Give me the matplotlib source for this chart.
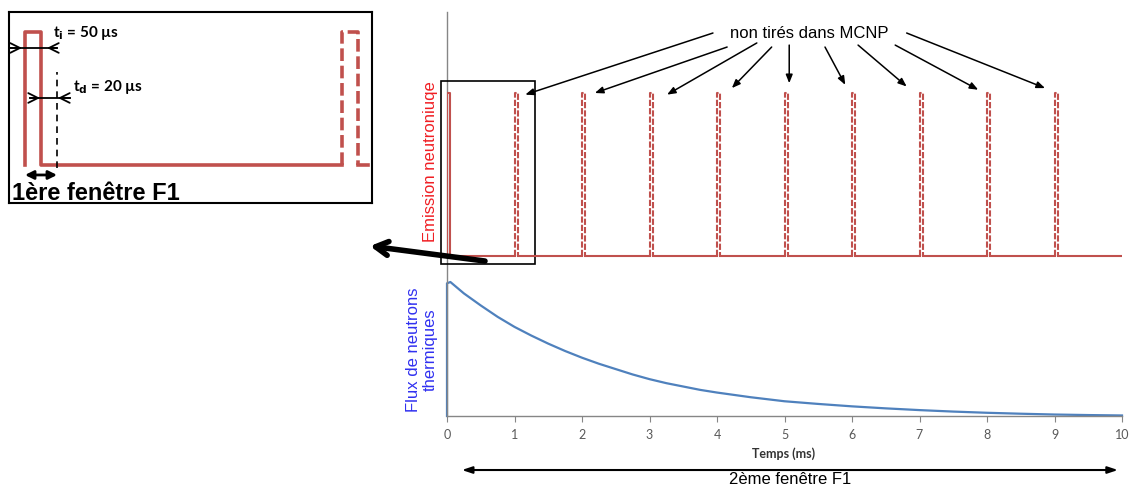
import matplotlib
matplotlib.use("Agg")
import matplotlib.pyplot as plt
from matplotlib.patches import Rectangle

# ---- data ----
# emission pulses (ms), pulse width 0.05 ms; only the first one is drawn in MCNP
pulse_t = [0, 1, 2, 3, 4, 5, 6, 7, 8, 9]
pulse_w = 0.05
pulse_tire = [True, False, False, False, False, False, False, False, False, False]
t_end = 10

# thermal neutron flux (normalised)
flux_t = [0, 0, 0.05, 0.25, 0.5, 0.75, 1, 1.25, 1.5, 1.75, 2, 2.25, 2.5, 2.75, 3,
          3.25, 3.5, 3.75, 4, 4.5, 5, 5.5, 6, 6.5, 7, 7.5, 8, 8.5, 9, 9.5, 10]
flux_v = [0, 0.99, 1.0, 0.915, 0.825, 0.74, 0.665, 0.60, 0.54, 0.485, 0.435, 0.39,
          0.35, 0.31, 0.275, 0.245, 0.22, 0.195, 0.175, 0.14, 0.11, 0.09, 0.072,
          0.057, 0.044, 0.033, 0.024, 0.017, 0.011, 0.007, 0.004]

xticks = [0, 1, 2, 3, 4, 5, 6, 7, 8, 9, 10]

# inset (µs)
ins_t_solid = [0, 0, 50, 50, 1000]
ins_v_solid = [0, 1, 1, 0, 0]
ins_t_dash = [1000, 1000, 1050, 1050]
ins_v_dash = [0, 1, 1, 0]
ins_t_tail = [1050, 1082]
ins_v_tail = [0, 0]

# arrows "non tirés dans MCNP": (target t, target level, start t, start level)
mcnp_arrows = [
    (1.16, 0.99, 3.94, 1.368),
    (2.19, 1.00, 4.15, 1.282),
    (3.26, 0.99, 4.59, 1.307),
    (4.22, 1.03, 4.81, 1.282),
    (5.07, 1.06, 5.07, 1.294),
    (5.90, 1.05, 5.60, 1.282),
    (6.81, 1.04, 6.09, 1.294),
    (7.87, 1.02, 6.64, 1.294),
    (8.86, 1.03, 6.81, 1.368),
]

RED = "#C0504D"
BLUE = "#4F81BD"
GRAY = "#868686"
plt.rcParams['font.family'] = ['Liberation Sans', 'DejaVu Sans']

W, H = 1131, 486
fig = plt.figure(figsize=(W / 100, H / 100), dpi=100)

# ---- main axes: x 0..10 ms -> px 447..1122, y px 12..416 ----
ax = fig.add_axes([447 / W, (H - 416) / H, 675 / W, 404 / H])
ax.set_xlim(0, 10)
ax.set_ylim(0, 404 / 134)
for s in ["top", "right"]:
    ax.spines[s].set_visible(False)
for s in ["left", "bottom"]:
    ax.spines[s].set_color(GRAY)
    ax.spines[s].set_linewidth(1)
ax.set_yticks([])
ax.set_xticks(xticks)
ax.set_xticklabels([str(v) for v in xticks], fontsize=9, color="#595959", family="Lato")
ax.tick_params(axis="x", length=4, color=GRAY, pad=5)
ax.patch.set_alpha(0)

ax.plot(flux_t, flux_v, color=BLUE, lw=1.6, clip_on=False, solid_joinstyle="round")

# emission on a twin axis: 0 -> px 256, 1 -> px 93
ax2 = ax.twinx()
ax2.set_ylim(-160 / 163, 244 / 163)
ax2.set_yticks([])
for s in ax2.spines.values():
    s.set_visible(False)

for i, t0 in enumerate(pulse_t):
    xs = [t0, t0, t0 + pulse_w, t0 + pulse_w]
    ys = [0, 1, 1, 0]
    if pulse_tire[i]:
        ax2.plot(xs, ys, color=RED, lw=1.5, solid_joinstyle="round")
    else:
        ax2.plot(xs, ys, color=RED, lw=1.5, linestyle=(0, (3, 1)), dash_joinstyle="round")
    nxt = pulse_t[i + 1] if i + 1 < len(pulse_t) else t_end
    ax2.plot([t0 + pulse_w, nxt], [0, 0], color=RED, lw=1.5)

# box around first window
ax2.add_patch(Rectangle((-0.089, -0.049), 1.393, 1.123, fill=False, ec="black",
                        lw=1.2, clip_on=False))
# thick arrow towards inset
ax2.annotate("", xy=(-1.141, 0.061), xytext=(0.563, -0.031),
             arrowprops=dict(arrowstyle="->,head_length=0.9,head_width=0.5",
                             lw=4, color="black", shrinkA=0, shrinkB=0),
             annotation_clip=False)

# non tirés dans MCNP
ax2.text(5.37, 1.368, "non tirés dans MCNP", fontsize=12, ha="center", va="center")
for tx, ty, sx, sy in mcnp_arrows:
    ax2.annotate("", xy=(tx, ty), xytext=(sx, sy),
                 arrowprops=dict(arrowstyle="-|>,head_length=0.5,head_width=0.2",
                                 lw=1.1, color="black", shrinkA=0, shrinkB=0),
                 annotation_clip=False)

# labels
fig.text(430 / W, 1 - 162 / H, "Emission neutroniuqe", rotation=90, color="#F01E23",
         fontsize=12, ha="center", va="center")
fig.text(422 / W, 1 - 350 / H, "Flux de neutrons\nthermiques", rotation=90,
         color="#3030F0", fontsize=12, ha="center", va="center", multialignment="center")
fig.text(784 / W, 1 - 454 / H, "Temps (ms)", fontsize=9, fontweight="bold",
         family="Lato", color="#333333", ha="center", va="center")

xt = ax.get_xaxis_transform()
ax.annotate("", xy=(9.94, -0.1337), xytext=(0.22, -0.1337), xycoords=xt, textcoords=xt,
            arrowprops=dict(arrowstyle="<|-|>,head_length=0.6,head_width=0.2",
                            lw=1.5, color="black", shrinkA=0, shrinkB=0),
            annotation_clip=False)
ax.text(5.08, -0.158, "2ème fenêtre F1", transform=xt, fontsize=12,
        ha="center", va="center")

# ---- inset: 0 µs -> px 25, 0.317 px/µs ; level 0 -> px 165, 1 -> px 32 ----
ai = fig.add_axes([9 / W, (H - 203) / H, 363 / W, 191 / H])
ai.set_xlim((9 - 25) / 0.317, (372 - 25) / 0.317)
ai.set_ylim(-38 / 133, 153 / 133)
ai.set_xticks([])
ai.set_yticks([])
for s in ai.spines.values():
    s.set_color("black")
    s.set_linewidth(1.5)

ai.plot(ins_t_solid, ins_v_solid, color=RED, lw=2.6, solid_joinstyle="round")
ai.plot(ins_t_dash, ins_v_dash, color=RED, lw=2.6, linestyle=(0, (3.5, 1.3)),
        dash_joinstyle="round")
ai.plot(ins_t_tail, ins_v_tail, color=RED, lw=2.6)

chev = dict(arrowstyle="->,head_length=0.7,head_width=0.35", lw=1.3, color="black",
            shrinkA=0, shrinkB=0)
# t_i dimension
ai.plot([-47, 101], [0.88, 0.88], color="black", lw=1.3)
ai.annotate("", xy=(-9.5, 0.88), xytext=(-47, 0.88), arrowprops=chev)
ai.annotate("", xy=(69.4, 0.88), xytext=(101, 0.88), arrowprops=chev)
ai.text(88, 0.99, r"t$_\mathbf{i}$ = 50 µs", fontsize=11, fontweight="bold",
        family="Lato", ha="left", va="center")
# t_d dimension
ai.plot([101, 101], [-0.023, 0.70], color="black", lw=1.2, linestyle=(0, (4, 3)))
ai.plot([15.8, 142], [0.504, 0.504], color="black", lw=1.3)
ai.annotate("", xy=(47.3, 0.504), xytext=(15.8, 0.504), arrowprops=chev)
ai.annotate("", xy=(104, 0.504), xytext=(142, 0.504), arrowprops=chev)
ai.text(151, 0.586, r"t$_\mathbf{d}$ = 20 µs", fontsize=11, fontweight="bold",
        family="Lato", ha="left", va="center")
# first window
ai.annotate("", xy=(101, -0.075), xytext=(0, -0.075),
            arrowprops=dict(arrowstyle="<|-|>,head_length=0.5,head_width=0.25",
                            lw=2, color="black", shrinkA=0, shrinkB=0))
ai.text(-41, -0.218, "1ère fenêtre F1", fontsize=17, fontweight="bold",
        ha="left", va="center")

fig.savefig("out.png", dpi=100)
